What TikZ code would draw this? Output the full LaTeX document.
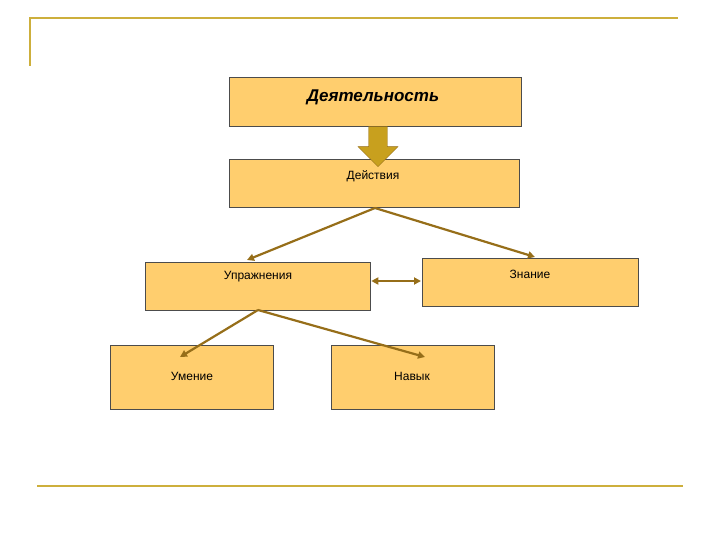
\documentclass[tikz,border=0pt]{standalone}
\usepackage{fontspec}
\setmainfont{Liberation Sans}
\usetikzlibrary{arrows.meta,shapes.arrows}
\definecolor{boxfill}{RGB}{255,206,110}
\definecolor{arr}{RGB}{150,110,25}
\definecolor{frame}{RGB}{205,175,60}
\definecolor{blk}{RGB}{200,160,30}
\begin{document}
\begin{tikzpicture}[x=1pt,y=-1pt,
  box/.style={draw=black!70,fill=boxfill,line width=0.6pt},
  lbl/.style={font=\fontsize{12}{14}\selectfont},
  con/.style={draw=arr,line width=2.2pt,-{Triangle[length=7pt,width=7pt]}}]
\useasboundingbox (0,0) rectangle (720,540);
\draw[frame,line width=1.5pt] (30,66) -- (30,18) -- (678,18);
\draw[frame,line width=1.5pt] (37,486) -- (683,486);
\node[box,minimum width=292,minimum height=49] (a) at (375,101.5) {};
\node[font=\fontsize{17}{20}\selectfont\bfseries\itshape] (at) at (373,97) {Деятельность};
\node[box,minimum width=290,minimum height=48] (b) at (374,183) {};
\node[lbl] (bt) at (373,176) {Действия};
\node[box,minimum width=225,minimum height=48] (c) at (257.5,286) {};
\node[lbl] (ct) at (258,277) {Упражнения};
\node[box,minimum width=216,minimum height=48] (d) at (530,282) {};
\node[lbl] (dt) at (530,274) {Знание};
\node[box,minimum width=163,minimum height=64] (e) at (191.5,377) {};
\node[lbl] (et) at (192,376) {Умение};
\node[box,minimum width=163,minimum height=64] (f) at (412.5,377) {};
\node[lbl] (ft) at (412,376) {Навык};
\node[single arrow,draw=arr,fill=blk,shape border rotate=270,minimum height=40,minimum width=40,single arrow head extend=6pt,inner sep=5pt] (blk) at (378,142) {};
\coordinate (bs) at (375,208);
\coordinate (cs) at (258,310);
\draw[con] (bs) -- (247,260);
\draw[con] (bs) -- (535,257);
\draw[con] (cs) -- (180,357);
\draw[con] (cs) -- (425,357);
\draw[draw=arr,line width=2.2pt,{Triangle[length=7pt,width=7pt]}-{Triangle[length=7pt,width=7pt]}] (c.east) ++(1,-5) -- (421,281);
\end{tikzpicture}
\end{document}
